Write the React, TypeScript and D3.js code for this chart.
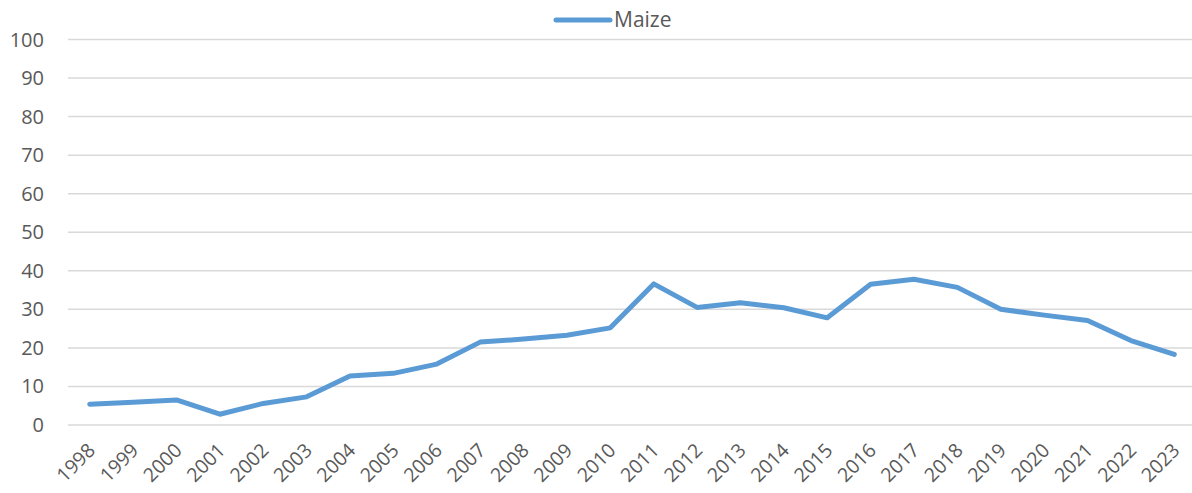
import { useEffect, useRef } from 'react'
import * as d3 from 'd3'

const YEARS = [
  '1998', '1999', '2000', '2001', '2002', '2003', '2004', '2005', '2006',
  '2007', '2008', '2009', '2010', '2011', '2012', '2013', '2014', '2015',
  '2016', '2017', '2018', '2019', '2020', '2021', '2022', '2023',
]
const MAIZE = [
  5.4, 5.9, 6.5, 2.8, 5.6, 7.3, 12.7, 13.4, 15.8,
  21.5, 22.3, 23.3, 25.2, 36.6, 30.5, 31.7, 30.4, 27.8,
  36.5, 37.8, 35.7, 30.0, 28.5, 27.1, 21.9, 18.3,
]
const Y_TICKS = [0, 10, 20, 30, 40, 50, 60, 70, 80, 90, 100]
const SERIES_NAME = 'Maize'

const W = 1192
const H = 493
const PLOT = { left: 68, right: 1196, top: 39.5, bottom: 425 }
const LINE_COLOR = '#5B9BD5'
const GRID_COLOR = '#D9D9D9'
const TEXT_COLOR = '#595959'
const FONT = '"Open Sans", "DejaVu Sans", sans-serif'

export default function App() {
  const svgRef = useRef<SVGSVGElement>(null)

  useEffect(() => {
    if (!svgRef.current) return
    const svg = d3.select(svgRef.current)
    svg.selectAll('*').remove()

    const x = d3.scaleBand<string>().domain(YEARS).range([PLOT.left, PLOT.right]).paddingInner(0)
    const cx = (d: string) => (x(d) ?? 0) + x.bandwidth() / 2
    const y = d3.scaleLinear().domain([0, 100]).range([PLOT.bottom, PLOT.top])

    // horizontal gridlines
    svg.append('g')
      .selectAll('line')
      .data(Y_TICKS)
      .join('line')
      .attr('x1', PLOT.left)
      .attr('x2', PLOT.right)
      .attr('y1', (d) => y(d))
      .attr('y2', (d) => y(d))
      .attr('stroke', GRID_COLOR)
      .attr('stroke-width', 1.5)

    // y tick labels
    svg.append('g')
      .selectAll('text')
      .data(Y_TICKS)
      .join('text')
      .attr('x', 44)
      .attr('y', (d) => y(d))
      .attr('dy', '0.35em')
      .attr('text-anchor', 'end')
      .attr('fill', TEXT_COLOR)
      .attr('font-size', 20)
      .attr('font-family', FONT)
      .text((d) => d)

    // x tick labels, rotated
    svg.append('g')
      .selectAll('text')
      .data(YEARS)
      .join('text')
      .attr('transform', (d) => `translate(${cx(d) - 3},${PLOT.bottom + 17}) rotate(-45)`)
      .attr('text-anchor', 'end')
      .attr('dy', '0.7em')
      .attr('fill', TEXT_COLOR)
      .attr('font-size', 19.5)
      .attr('font-family', FONT)
      .text((d) => d)

    // series line
    const line = d3.line<number>()
      .x((_, i) => cx(YEARS[i]))
      .y((d) => y(d))
    svg.append('path')
      .datum(MAIZE)
      .attr('d', line)
      .attr('fill', 'none')
      .attr('stroke', LINE_COLOR)
      .attr('stroke-width', 5)
      .attr('stroke-linejoin', 'round')
      .attr('stroke-linecap', 'round')

    // legend
    const lg = svg.append('g').attr('transform', 'translate(556,20)')
    lg.append('line')
      .attr('x1', 0)
      .attr('x2', 54)
      .attr('stroke', LINE_COLOR)
      .attr('stroke-width', 5)
      .attr('stroke-linecap', 'round')
    lg.append('text')
      .attr('x', 58)
      .attr('dy', '0.35em')
      .attr('fill', TEXT_COLOR)
      .attr('font-size', 21)
      .attr('font-family', FONT)
      .text(SERIES_NAME)
  }, [])

  return (
    <svg
      ref={svgRef}
      width={W}
      height={H}
      style={{ position: 'absolute', left: 0, top: 0, background: '#fff' }}
    />
  )
}
